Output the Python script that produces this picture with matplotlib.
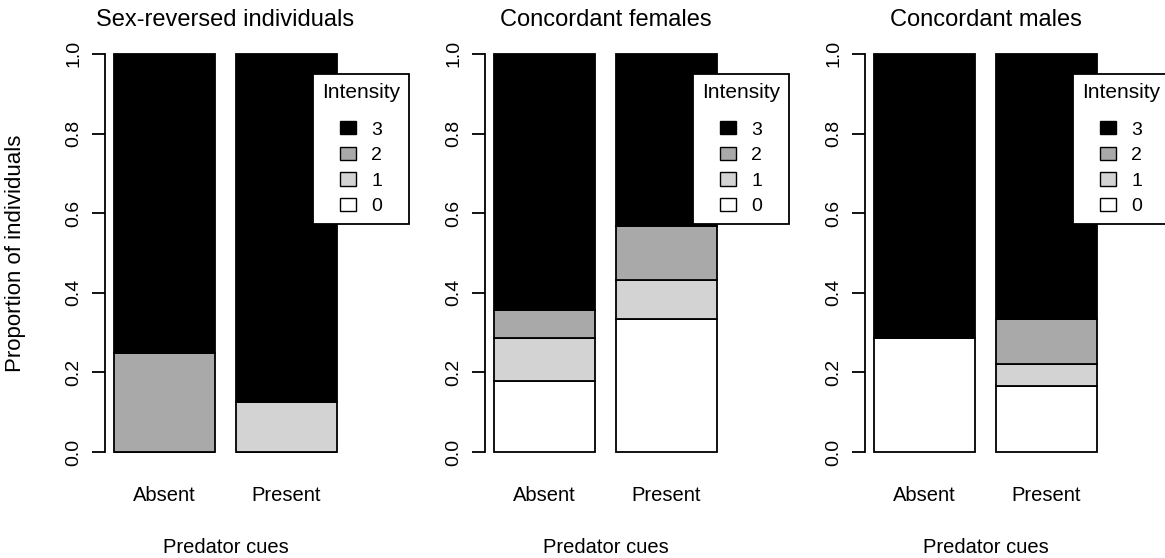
import numpy as np
import matplotlib
matplotlib.use("Agg")
import matplotlib.pyplot as plt
from matplotlib.patches import Patch

plt.rcParams['font.family'] = ['Liberation Sans', 'DejaVu Sans']

# proportions of each intensity level, per group (Absent, Present)
titles = ["Sex-reversed individuals", "Concordant females", "Concordant males"]
cues = ["Absent", "Present"]
levels = ["0", "1", "2", "3"]
level_colors = ["white", "#D3D3D3", "#A9A9A9", "black"]

sexrev = [[0.0, 0.0], [0.0, 0.125], [0.25, 0.0], [0.75, 0.875]]
conc_fem = [[5/28, 10/30], [3/28, 3/30], [2/28, 4/30], [18/28, 13/30]]
conc_male = [[2/7, 3/18], [0.0, 1/18], [0.0, 2/18], [5/7, 12/18]]
panels = [sexrev, conc_fem, conc_male]

W, H = 1165, 558
fig = plt.figure(figsize=(W / 100, H / 100), dpi=100)

# plot regions in pixels (left edge), R-style 4% padding around data range
lefts = [105, 485, 865]
pw = 241
bottom_px, top_px = 468, 38
lw = 1.3

x_left = [0.2, 1.4]
for k, (title, vals) in enumerate(zip(titles, panels)):
    ax = fig.add_axes([lefts[k] / W, (H - bottom_px) / H, pw / W, (bottom_px - top_px) / H])
    base = np.zeros(2)
    for lev, col, v in zip(levels, level_colors, vals):
        ax.bar(x_left, v, width=1.0, bottom=base, align='edge', color=col,
               edgecolor='black', linewidth=lw, label=lev)
        base += np.array(v)
    ax.set_xlim(0.2 - 0.088, 2.4 + 0.088)
    ax.set_ylim(-0.04, 1.04)
    for s in ['top', 'right', 'bottom']:
        ax.spines[s].set_visible(False)
    ax.spines['left'].set_bounds(0, 1)
    ax.spines['left'].set_linewidth(lw)
    ax.set_yticks([0, 0.2, 0.4, 0.6, 0.8, 1.0])
    ax.set_yticklabels(["0.0", "0.2", "0.4", "0.6", "0.8", "1.0"])
    ax.tick_params(axis='y', length=9.4, width=lw, labelsize=14, pad=7,
                   labelrotation=90)
    for t in ax.get_yticklabels():
        t.set_va('center')
    ax.set_xticks([0.7, 1.9])
    ax.set_xticklabels(cues)
    ax.tick_params(axis='x', length=0, labelsize=14.5, pad=13)
    ax.set_xlabel("Predator cues", fontsize=14.5, labelpad=24)
    ax.set_title(title, fontsize=17, pad=9)

    handles = [Patch(facecolor=c, edgecolor='black', linewidth=1.0)
               for c in level_colors[::-1]]
    right_px = lefts[k] + 304
    leg = fig.legend(handles, levels[::-1], title="Intensity",
                     loc='upper right', bbox_to_anchor=(right_px / W, 1 - 74 / H),
                     fontsize=14, title_fontsize=15, frameon=True, fancybox=False,
                     framealpha=1, borderaxespad=0, borderpad=0.45,
                     handlelength=0.82, handleheight=0.67, handletextpad=0.8,
                     labelspacing=0.42)
    leg._legend_box.sep = 14  # wider gap under the title, as in R
    leg.get_frame().set_edgecolor('black')
    leg.get_frame().set_linewidth(lw)

fig.text(16 / W, 1 - 253 / H, "Proportion of individuals", rotation=90,
         ha='center', va='center', fontsize=16)

fig.savefig("out.png", dpi=100)
